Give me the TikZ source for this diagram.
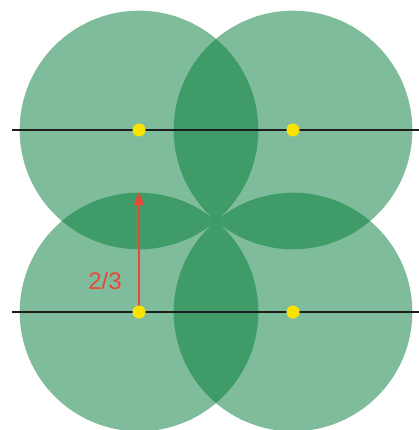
\documentclass[tikz,border=0pt]{standalone}
\usepackage{fontspec}
\setmainfont{Liberation Sans}
\usetikzlibrary{arrows.meta}
\definecolor{disc}{RGB}{0,122,55}
\definecolor{dotyellow}{RGB}{248,228,0}
\definecolor{arrowred}{RGB}{232,72,58}
\definecolor{linedark}{RGB}{30,30,30}
\tikzset{
  disk/.style={circle, minimum size=238.6pt, inner sep=0pt, fill=disc, fill opacity=0.5, draw=none},
  centerdot/.style={circle, minimum size=13pt, inner sep=0pt, fill=dotyellow, draw=none},
  axisline/.style={draw=linedark, line width=2pt},
  measure/.style={draw=arrowred, line width=1.6pt, -{Triangle[length=13pt,width=10pt]}},
  measurelabel/.style={text=arrowred, font=\fontsize{24}{24}\selectfont}
}
\begin{document}
\begin{tikzpicture}[x=1pt,y=-1pt]
\useasboundingbox (0,0) rectangle (419,430);
% discs
\node[disk] (c1) at (139,130) {};
\node[disk] (c2) at (293,130) {};
\node[disk] (c3) at (139,312) {};
\node[disk] (c4) at (293,312) {};
% axis lines
\coordinate (l1a) at (12,130);
\coordinate (l1b) at (419,130);
\coordinate (l2a) at (12,312);
\coordinate (l2b) at (419,312);
\draw[axisline] (l1a) -- (l1b);
\draw[axisline] (l2a) -- (l2b);
% arrow
\coordinate (tip) at (139,192);
\draw[measure] (139,312) -- (tip);
\node[measurelabel] (lab) at (105,281) {2/3};
% dots
\node[centerdot] (d1) at (139,130) {};
\node[centerdot] (d2) at (293,130) {};
\node[centerdot] (d3) at (139,312) {};
\node[centerdot] (d4) at (293,312) {};
\end{tikzpicture}
\end{document}
